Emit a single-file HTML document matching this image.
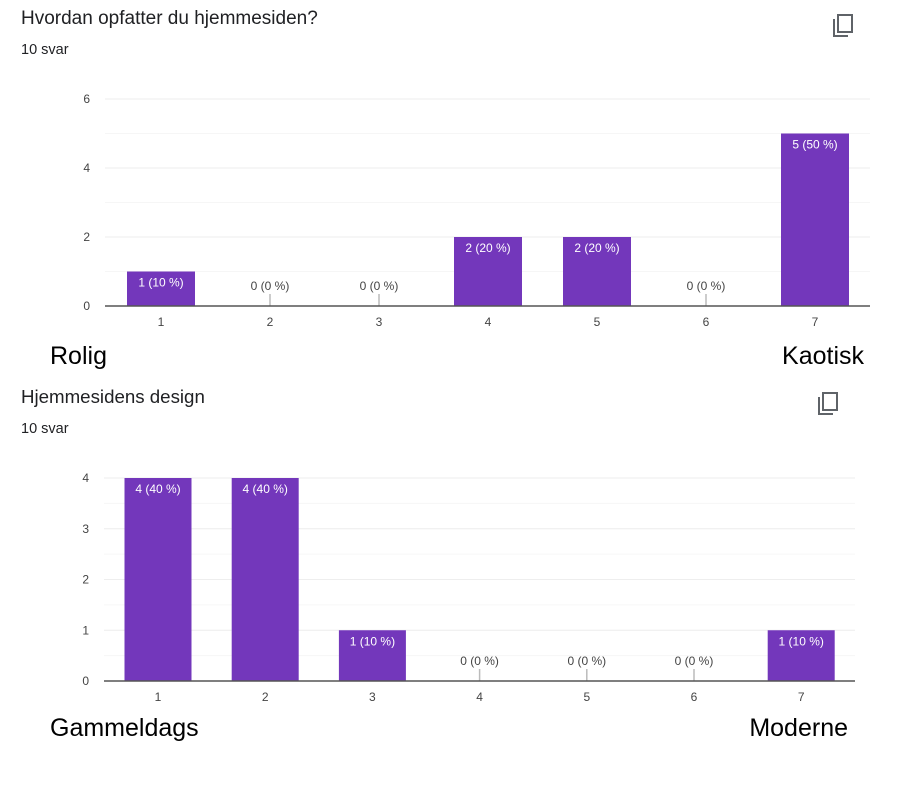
<!DOCTYPE html>
<html><head><meta charset="utf-8"><style>
body{margin:0;background:#fff;width:900px;height:800px;overflow:hidden;font-family:"Liberation Sans",Arial,sans-serif;}
svg{position:absolute;left:0;top:0}
</style></head><body>
<svg width="900" height="800" id="svg">
<text x="21" y="24" font-size="19" fill="#202124">Hvordan opfatter du hjemmesiden?</text>
<text x="21" y="54" font-size="14.5" fill="#202124">10 svar</text>
<g fill="none" stroke="#5f6368" stroke-width="2"><rect x="838" y="15" width="14" height="17"/><path d="M834 19 v17 h14"/></g>
<text x="50" y="364" font-size="25" fill="#000">Rolig</text>
<text x="864" y="364" font-size="25" fill="#000" text-anchor="end">Kaotisk</text>
<text x="21" y="403" font-size="18.7" fill="#202124">Hjemmesidens design</text>
<text x="21" y="433" font-size="14.5" fill="#202124">10 svar</text>
<g fill="none" stroke="#5f6368" stroke-width="2"><rect x="823" y="393" width="14" height="17"/><path d="M819 397 v17 h14"/></g>
<text x="50" y="736" font-size="25" fill="#000">Gammeldags</text>
<text x="848" y="736" font-size="25" fill="#000" text-anchor="end">Moderne</text>
</svg>
<script>
const categories1 = ["1","2","3","4","5","6","7"];
const values1 = [1,0,0,2,2,0,5];
const labels1 = ["1 (10 %)","0 (0 %)","0 (0 %)","2 (20 %)","2 (20 %)","0 (0 %)","5 (50 %)"];
const ticks1 = [0,2,4,6];
const categories2 = ["1","2","3","4","5","6","7"];
const values2 = [4,4,1,0,0,0,1];
const labels2 = ["4 (40 %)","4 (40 %)","1 (10 %)","0 (0 %)","0 (0 %)","0 (0 %)","1 (10 %)"];
const ticks2 = [0,1,2,3,4];

const NS="http://www.w3.org/2000/svg";
const svg=document.getElementById('svg');
function mk(tag,attrs,parent){const e=document.createElementNS(NS,tag);for(const k in attrs)e.setAttribute(k,attrs[k]);(parent||svg).appendChild(e);return e;}

function drawChart(pfx,cats,vals,labs,ticks,L,R,T,B,firstCenter,step,barW){
  const max=ticks[ticks.length-1];
  const y=v=>B-(v/max)*(B-T);
  const x=i=>firstCenter+i*step;
  const g=mk('g',{});
  
  
  for(let v=0;v<max;v+=(ticks[1]-ticks[0])/2){
    const gl=mk('line',{x1:L,x2:R,y1:y(v),y2:y(v),stroke:'#f6f6f6','stroke-width':1},g);
    
    
  }
  ticks.forEach(t=>{
    const gl=mk('line',{x1:L,x2:R,y1:y(t),y2:y(t),stroke:'#eeeeee','stroke-width':1},g);
    
    
    const tl=mk('text',{x:L-15,y:y(t)+4,'font-size':12,fill:'#444','text-anchor':'end'},g);
    tl.textContent=t;
    
    
  });
  cats.forEach((c,i)=>{
    const v=vals[i];
    if(v>0){
      const b=mk('rect',{x:x(i)-barW/2,y:y(v),width:barW,height:B-y(v),fill:'#7337bb'},g);
      
      
      const t=mk('text',{x:x(i),y:y(v)+15,'font-size':12,fill:'#fff','text-anchor':'middle'},g);
      t.textContent=labs[i];
      
      
    } else {
      const b=mk('line',{x1:x(i),x2:x(i),y1:B-12,y2:B,stroke:'#bbb','stroke-width':1.5},g);
      
      
      const t=mk('text',{x:x(i),y:B-16,'font-size':12,fill:'#444','text-anchor':'middle'},g);
      t.textContent=labs[i];
      
      
    }
    const xl=mk('text',{x:x(i),y:B+20,'font-size':12,fill:'#444','text-anchor':'middle'},g);
    xl.textContent=c;
    
    
  });
  const ax=mk('line',{x1:L,x2:R,y1:B,y2:B,stroke:'#555','stroke-width':1.5},g);
  
  
}
drawChart('chart1',categories1,values1,labels1,ticks1,105,870,99,306,161,109,68);
drawChart('chart2',categories2,values2,labels2,ticks2,104,855,478,681,158,107.2,67);
</script>
</body></html>
